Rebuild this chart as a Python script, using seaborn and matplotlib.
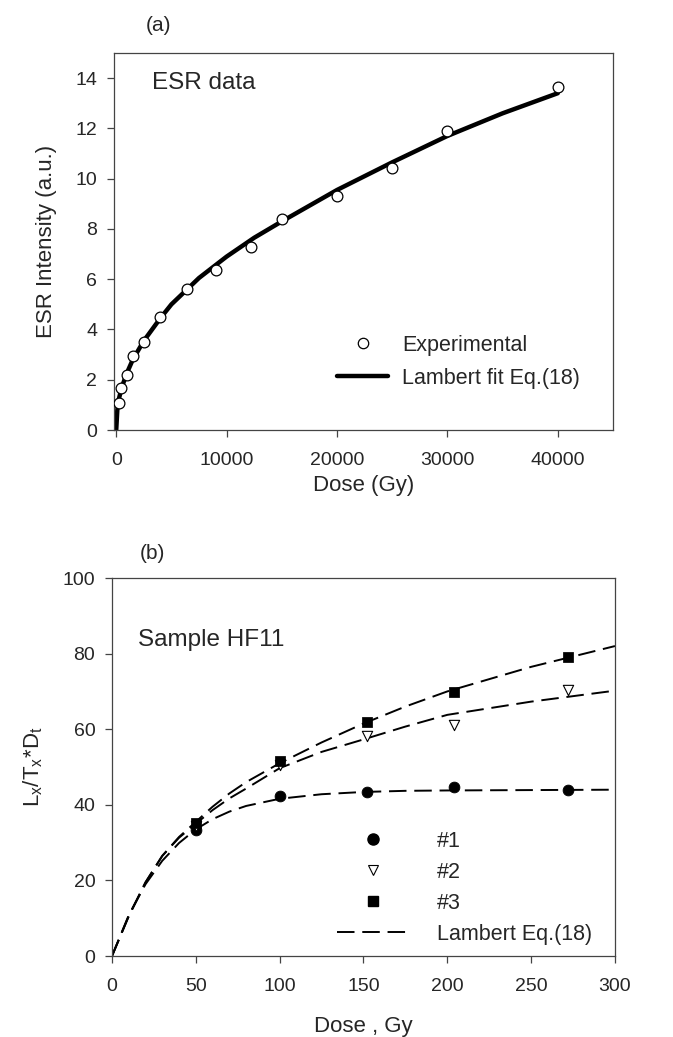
import numpy as np
import pandas as pd
import seaborn as sns
import matplotlib.pyplot as plt
from matplotlib.lines import Line2D

# ---- panel (a): ESR data ----
esr_dose = [250, 420, 1000, 1550, 2500, 4000, 6400, 9000, 12200, 15000, 20000, 25000, 30000, 40000]
esr_intensity = [1.06, 1.69, 2.18, 2.95, 3.5, 4.5, 5.6, 6.35, 7.3, 8.4, 9.33, 10.42, 11.88, 13.65]

esr_fit_dose = [0, 100, 250, 500, 1000, 1500, 2500, 4000, 5000, 7500, 10000, 12500,
                15000, 20000, 25000, 30000, 35000, 40000]
esr_fit_int = [0, 0.8, 1.25, 1.7, 2.3, 2.8, 3.55, 4.45, 5.0, 6.05, 6.9, 7.65,
               8.3, 9.55, 10.65, 11.7, 12.6, 13.4]

# ---- panel (b): Sample HF11 ----
hf_dose = [50, 100, 152, 204, 272]
s1_vals = [33.4, 42.4, 43.4, 44.7, 44.0]
s2_vals = [34.5, 50.5, 58.1, 61.0, 70.3]
s3_vals = [35.3, 51.5, 61.9, 69.8, 79.1]

fit_dose = [0, 10, 20, 30, 40, 50, 60, 70, 80, 100, 125, 150, 175, 200, 250, 300]
fit1 = [0, 10.8, 19.0, 25.2, 29.9, 33.5, 36.2, 38.2, 39.7, 41.6, 42.8, 43.4, 43.7, 43.8, 43.9, 44.0]
fit2 = [0, 10.6, 19.5, 26.5, 31.3, 35.0, 38.6, 41.7, 44.3, 49.7, 54.0, 57.3, 60.7, 63.8, 67.3, 70.2]
fit3 = [0, 10.5, 19.5, 26.5, 31.5, 35.5, 39.5, 43.0, 46.0, 51.0, 56.5, 61.5, 66.0, 70.0, 76.5, 82.0]

sns.set_style("ticks")
plt.rcParams['font.family'] = ['Liberation Sans', 'DejaVu Sans']

fig = plt.figure(figsize=(6.73, 10.37), dpi=100)
ax1 = fig.add_axes([0.1694, 0.5853, 0.7414, 0.3636])
ax2 = fig.add_axes([0.1664, 0.0781, 0.7474, 0.3645])

spine_col = '#444444'
for ax in (ax1, ax2):
    for s in ax.spines.values():
        s.set_color(spine_col)
        s.set_linewidth(0.9)
    ax.tick_params(direction='out', length=5, width=0.9, color=spine_col,
                   labelsize=14, top=False, right=False)
    ax.tick_params(axis='x', pad=11)
    ax.tick_params(axis='y', pad=7)

# panel (a)
sns.lineplot(x=esr_fit_dose, y=esr_fit_int, ax=ax1, color='black', lw=3.2, zorder=2)
sns.scatterplot(x=esr_dose, y=esr_intensity, ax=ax1, marker='o', s=60,
                facecolor='white', edgecolor='black', linewidth=0.9, zorder=3)
ax1.set_xlim(-200, 45000)
ax1.set_ylim(0, 15)
ax1.set_xticks([0, 10000, 20000, 30000, 40000])
ax1.set_yticks([0, 2, 4, 6, 8, 10, 12, 14])
ax1.set_xlabel('Dose (Gy)', fontsize=16, labelpad=4)
ax1.set_ylabel('ESR Intensity (a.u.)', fontsize=16, labelpad=13)
ax1.text(0.076, 0.92, 'ESR data', transform=ax1.transAxes, fontsize=17.5, va='center')
h_a = [Line2D([], [], marker='o', ls='none', mfc='white', mec='black', ms=7.5, mew=0.9),
       Line2D([], [], color='black', lw=3.2)]
ax1.legend(h_a, ['Experimental', 'Lambert fit Eq.(18)'], loc='upper left',
           bbox_to_anchor=(0.447, 0.252), frameon=False, fontsize=15.5,
           handlelength=2.37, handletextpad=0.65, borderpad=0, borderaxespad=0,
           labelspacing=0.55)
fig.text(0.216, 0.975, '(a)', fontsize=15, va='center')

# panel (b)
dash = (0, (9, 4))
for fy in (fit1, fit2, fit3):
    sns.lineplot(x=fit_dose, y=fy, ax=ax2, color='black', lw=1.4, linestyle=dash, zorder=2)
sns.scatterplot(x=hf_dose, y=s1_vals, ax=ax2, marker='o', s=60, color='black',
                edgecolor='black', zorder=3)
sns.scatterplot(x=hf_dose, y=s2_vals, ax=ax2, marker='v', s=55, facecolor='white',
                edgecolor='black', linewidth=0.8, zorder=3)
sns.scatterplot(x=hf_dose, y=s3_vals, ax=ax2, marker='s', s=45, color='black',
                edgecolor='black', zorder=3)
ax2.set_xlim(0, 300)
ax2.set_ylim(0, 100)
ax2.set_xticks([0, 50, 100, 150, 200, 250, 300])
ax2.set_yticks([0, 20, 40, 60, 80, 100])
ax2.set_xlabel('Dose , Gy', fontsize=16, labelpad=15)
ax2.set_ylabel(r'L$_\mathregular{x}$/T$_\mathregular{x}$*D$_\mathregular{t}$',
               fontsize=16, labelpad=13)
ax2.text(0.052, 0.836, 'Sample HF11', transform=ax2.transAxes, fontsize=17.5, va='center')
h_b = [Line2D([], [], marker='o', ls='none', color='black', ms=8),
       Line2D([], [], marker='v', ls='none', mfc='white', mec='black', ms=7.5, mew=0.8),
       Line2D([], [], marker='s', ls='none', color='black', ms=6.5),
       Line2D([], [], color='black', lw=1.4, linestyle=dash)]
ax2.legend(h_b, ['#1', '#2', '#3', 'Lambert Eq.(18)'], loc='upper left',
           bbox_to_anchor=(0.447, 0.331), frameon=False, fontsize=15.5,
           handlelength=3.4, handletextpad=1.25, borderpad=0, borderaxespad=0,
           labelspacing=0.46)
fig.text(0.207, 0.4667, '(b)', fontsize=15, va='center')

fig.savefig('out.png', dpi=100)
